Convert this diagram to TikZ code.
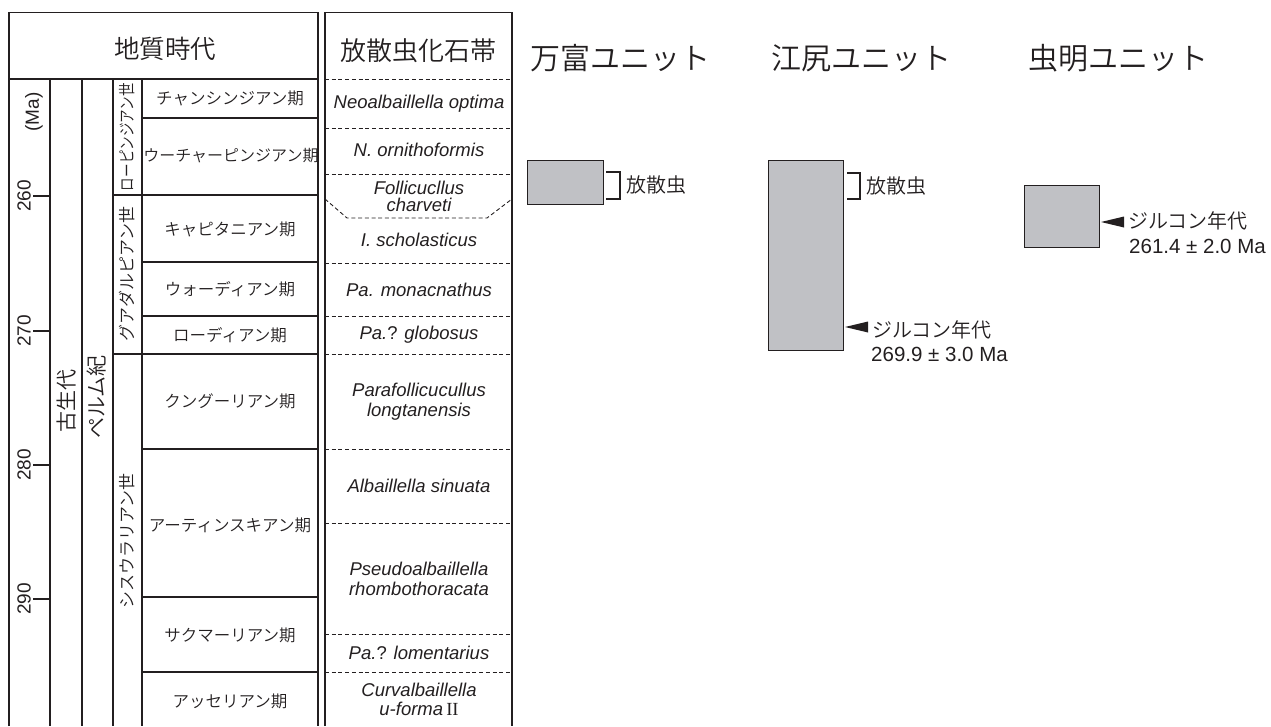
\documentclass[tikz,border=0pt]{standalone}
\usepackage{fontspec}
\newfontfamily\jp{Noto Sans CJK JP DemiLight}
\newfontfamily\ar{Liberation Sans}
\newfontfamily\serf{Liberation Serif}
\definecolor{ink}{RGB}{35,31,32}
\definecolor{unitgray}{RGB}{192,193,197}
\begin{document}
\begin{tikzpicture}[x=1pt,y=-1pt,
  frame/.style={draw=ink, line width=1.3pt},
  rule/.style={draw=ink, line width=1.1pt},
  zoneline/.style={draw=ink, line width=0.9pt, dash pattern=on 4pt off 2.7pt},
  jpt/.style={font=\jp\fontsize{16.5}{19}\selectfont, text=ink, inner sep=0pt},
  sers/.style={font=\jp\fontsize{17}{19}\selectfont, text=ink, inner sep=0pt, rotate=90},
  big/.style={font=\jp\fontsize{21}{23}\selectfont, text=ink, inner sep=0pt, rotate=90},
  zone/.style={font=\ar\itshape\fontsize{18.5}{19}\selectfont, text=ink, align=center, inner sep=0pt},
  ticklbl/.style={font=\ar\fontsize{19}{20}\selectfont, text=ink, rotate=90, inner sep=0pt},
  unitbox/.style={draw=ink, fill=unitgray, line width=1.1pt, inner sep=0pt, anchor=north west},
  bracket/.style={draw=ink, line width=1.4pt},
  ann/.style={font=\jp\fontsize{20}{22}\selectfont, text=ink, inner sep=0pt, anchor=west},
  num/.style={font=\ar\fontsize{20.5}{22}\selectfont, text=ink, inner sep=0pt, anchor=west},
  head/.style={font=\jp\fontsize{25.5}{28}\selectfont, text=ink, inner sep=0pt},
  unithead/.style={font=\jp\fontsize{30}{32}\selectfont, text=ink, inner sep=0pt, anchor=west}]
\useasboundingbox (0,0) rectangle (1271,726);

% ---------- left table: geological time ----------
\draw[frame] (9,726) -- (9,12.7) -- (318,12.7) -- (318,726);
\draw[frame] (9,79) -- (318,79);
\foreach \x in {50,82,113,142} \draw[rule] (\x,79) -- (\x,726);
\foreach \y in {118,262,316,449,597,672} \draw[rule] (142,\y) -- (318,\y);
\foreach \y in {195,354} \draw[rule] (113,\y) -- (318,\y);
\foreach \y/\l in {196/260,331/270,465/280,599/290} {
  \draw[rule] (33,\y) -- (50,\y);
  \node[ticklbl] (t\l) at (24,\y) {\l};
}
\node[ticklbl] (ma) at (34,112) {(Ma)};
\node[head] (hgeo) at (165,49) {地質時代};
\node[big] (era) at (67,401) {古生代};
\node[big] (per) at (97,397) {ペルム紀};
\node[sers] (lop) at (127.5,137) {\scalebox{0.8}[1]{ローピンジアン世}};
\node[sers] (gua) at (127.5,274) {グアダルピアン世};
\node[sers] (cis) at (127.5,541) {シスウラリアン世};

\node[jpt] (s1) at (230,98.5) {チャンシンジアン期};
\node[jpt, font=\jp\fontsize{16}{19}\selectfont] (s2) at (231,156) {ウーチャーピンジアン期};
\node[jpt] (s3) at (230,229) {キャピタニアン期};
\node[jpt] (s4) at (230,289) {ウォーディアン期};
\node[jpt] (s5) at (230,335) {ローディアン期};
\node[jpt] (s6) at (230,401) {クングーリアン期};
\node[jpt] (s7) at (230,525) {アーティンスキアン期};
\node[jpt] (s8) at (230,635) {サクマーリアン期};
\node[jpt] (s9) at (230,701) {アッセリアン期};

% ---------- radiolarian zones ----------
\draw[frame] (325,726) -- (325,12.7) -- (512,12.7) -- (512,726);
\foreach \y in {79,128,174,263,316,354,449,523,634,672} \draw[zoneline] (325,\y) -- (512,\y);
\draw[zoneline] (325,199) -- (347,218) -- (487,218) -- (512,199);
\node[head, font=\jp\fontsize{26}{28}\selectfont] (hzone) at (418,51) {放散虫化石帯};
\node[zone] (z1) at (419,104) {Neoalbaillella optima};
\node[zone] (z2) at (419,150) {N. ornithoformis};
\node[zone, font=\ar\itshape\fontsize{18.5}{17}\selectfont] (z3) at (419,196) {Follicucllus\\charveti};
\node[zone] (z4) at (419,240) {I. scholasticus};
\node[zone] (z5) at (419,289.5) {Pa. monacnathus};
\node[zone] (z6) at (419,335) {Pa.{\upshape ?} globosus};
\node[zone, font=\ar\itshape\fontsize{18.5}{20}\selectfont] (z7) at (419,401.5) {Parafollicucullus\\longtanensis};
\node[zone] (z8) at (419,486) {Albaillella sinuata};
\node[zone, font=\ar\itshape\fontsize{18.5}{20}\selectfont] (z9) at (419,578.5) {Pseudoalbaillella\\rhombothoracata};
\node[zone] (z10) at (419,653) {Pa.{\upshape ?} lomentarius};
\node[zone] (z11) at (419,699) {Curvalbaillella\\u-forma\,{\serf\upshape II}};

% ---------- units ----------
\node[unithead] (hman) at (530,58) {万富ユニット};
\node[unithead] (hej) at (771,58) {江尻ユニット};
\node[unithead] (hmu) at (1028,58) {虫明ユニット};

\node[unitbox, minimum width=76pt, minimum height=44pt] (manbox) at (527,160) {};
\node[unitbox, minimum width=75pt, minimum height=190pt] (ejbox) at (768,160) {};
\node[unitbox, minimum width=75pt, minimum height=62pt] (mubox) at (1024,185) {};

\draw[bracket] (606,172) -- (620,172) -- (620,199) -- (606,199);
\node[ann] (rman) at (626,185) {放散虫};
\draw[bracket] (847,173) -- (860,173) -- (860,199) -- (847,199);
\node[ann] (rej) at (866,186) {放散虫};

\coordinate (ejtip) at (845,327);
\fill[ink] (ejtip) -- ++(23,-5.5) -- ++(0,11) -- cycle;
\node[ann] (zej) at (872,330) {ジルコン年代};
\node[num] (nej) at (871,354) {269.9 ± 3.0 Ma};

\coordinate (mutip) at (1101,222);
\fill[ink] (mutip) -- ++(23,-5.5) -- ++(0,11) -- cycle;
\node[ann] (zmu) at (1128,221) {ジルコン年代};
\node[num] (nmu) at (1129,246) {261.4 ± 2.0 Ma};
\end{tikzpicture}
\end{document}
